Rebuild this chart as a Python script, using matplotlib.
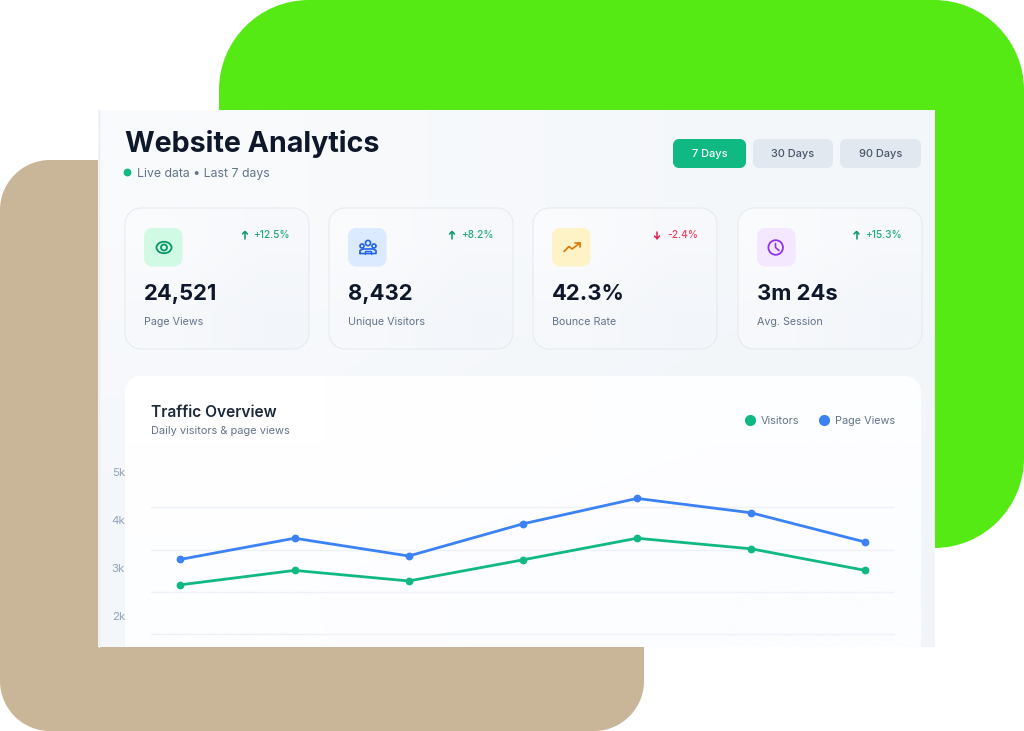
import numpy as np
import matplotlib
matplotlib.use('Agg')
from matplotlib import pyplot as plt
from matplotlib.colors import to_rgb
from matplotlib.lines import Line2D
from matplotlib.patches import Circle, Ellipse, PathPatch
from matplotlib.path import Path

# chart data
days = [0, 1, 2, 3, 4, 5, 6]
visitors = [2650, 2950, 2730, 3170, 3620, 3400, 2950]
page_views = [3180, 3620, 3250, 3920, 4450, 4150, 3540]
y_ticks = [2000, 3000, 4000, 5000]
y_labels = ['2k', '3k', '4k', '5k']
grid_values = [1615, 2500, 3385, 4270]

# header + cards
buttons = ['7 Days', '30 Days', '90 Days']
card_values = ['24,521', '8,432', '42.3%', '3m 24s']
card_labels = ['Page Views', 'Unique Visitors', 'Bounce Rate', 'Avg. Session']
card_deltas = ['+12.5%', '+8.2%', '-2.4%', '+15.3%']

GREEN = '#10B981'
BLUE = '#3B82F6'
DARK = '#1E293B'
GREY = '#64748B'
FONT = 'Inter'

plt.rcParams['font.family'] = [FONT, 'DejaVu Sans']

fig = plt.figure(figsize=(10.24, 7.31), dpi=100, facecolor='white')
bg = fig.add_axes([0, 0, 1, 1])


def round_path(x, y, w, h, r):
    k = 0.5523 * r
    x1, y1 = x + w, y + h
    verts = [(x + r, y), (x1 - r, y), (x1 - r + k, y), (x1, y + r - k), (x1, y + r),
             (x1, y1 - r), (x1, y1 - r + k), (x1 - r + k, y1), (x1 - r, y1),
             (x + r, y1), (x + r - k, y1), (x, y1 - r + k), (x, y1 - r),
             (x, y + r), (x, y + r - k), (x + r - k, y), (x + r, y), (x + r, y)]
    codes = [Path.MOVETO, Path.LINETO] + [Path.CURVE4] * 3 + [Path.LINETO] + [Path.CURVE4] * 3 + \
            [Path.LINETO] + [Path.CURVE4] * 3 + [Path.LINETO] + [Path.CURVE4] * 3 + [Path.CLOSEPOLY]
    return Path(verts, codes)


def box(x, y, w, h, r, color, edge='none', lw=0, z=1):
    p = PathPatch(round_path(x, y, w, h, r), facecolor=color, edgecolor=edge, linewidth=lw, zorder=z)
    bg.add_patch(p)
    return p


def gradient(x, y, w, h, r, c1, c2, z, clip_h=None):
    a, b = np.array(to_rgb(c1)), np.array(to_rgb(c2))
    g = np.array([[a, (a + b) / 2], [(a + b) / 2, b]])
    im = bg.imshow(g, extent=(x, x + w, y + h, y), aspect='auto', interpolation='bilinear', zorder=z)
    if r > 0:
        clip = PathPatch(round_path(x, y, w, clip_h or h, r), transform=bg.transData)
        im.set_clip_path(clip)


def txt(x, y, s, size, color, weight='normal', ha='left'):
    # Inter sits a bit high with va=center
    bg.text(x, y + 1.5, s, fontsize=size * 0.72, color=color, fontweight=weight, ha=ha, va='center', zorder=8)


def stroke(xs, ys, color, lw=1.1):
    bg.plot(xs, ys, color=color, lw=lw, solid_capstyle='round', solid_joinstyle='round', zorder=7)


# background shapes
box(219, 0, 805, 548, 90, '#55EA14', z=1)
box(0, 160, 644, 571, 50, '#C9B598', z=2)

# panel
gradient(98, 110, 837, 537, 0, '#F8FAFC', '#F1F5F9', 3)
bg.plot([98.5, 98.5], [110, 647], color='#E8ECF4', lw=1, zorder=3.5)

txt(125, 142, 'Website Analytics', 28.6, '#0F172A', 'bold')
bg.add_patch(Circle((127.5, 172.5), 3.2, color=GREEN, zorder=7))
txt(137, 172, 'Live data • Last 7 days', 12.3, GREY)

# range buttons
button_x = [673, 753, 840]
button_w = [73, 80, 81]
for i, label in enumerate(buttons):
    active = i == 0
    box(button_x[i], 139, button_w[i], 29, 6, GREEN if active else '#E2E8F0', z=5)
    txt(button_x[i] + button_w[i] / 2, 152.5, label, 11, 'white' if active else '#475569', 'medium', 'center')

# stat cards
card_x = [125, 329, 533, 738]
icon_bg = ['#D1FAE5', '#DBEAFE', '#FEF3C7', '#F3E8FF']
delta_right = [290, 494, 698, 902]
delta_arrow = [245, 452, 657, 856.5]
for i in range(4):
    x = card_x[i]
    gradient(x, 208, 184, 141, 16, '#FAFBFD', '#F3F6FA', 4)
    p = PathPatch(round_path(x, 208, 184, 141, 16), facecolor='none', edgecolor='#E6EBF2', linewidth=0.8, zorder=4.5)
    bg.add_patch(p)
    box(x + 19, 228, 38.5, 38.5, 8, icon_bg[i], z=5)
    down = card_deltas[i].startswith('-')
    col = '#E11D48' if down else '#059669'
    txt(delta_right[i], 234, card_deltas[i], 10.2, '#F43F5E' if down else '#22A97C', 'medium', 'right')
    ax_ = delta_arrow[i]
    tip = 238.5 if down else 231.5
    tail = 232 if down else 238.5
    sign = -1 if down else 1
    stroke([ax_, ax_], [tail, tip], col, 1.1)
    stroke([ax_ - 2.5, ax_, ax_ + 2.5], [tip + 2.5 * sign, tip, tip + 2.5 * sign], col, 1.1)
    txt(x + 19, 292, card_values[i], 22, '#0F172A', 'bold')
    txt(x + 19, 320.5, card_labels[i], 10.7, GREY)

# icon glyphs
c = '#059669'
bg.add_patch(Ellipse((164, 247.5), 15, 11.5, fill=False, edgecolor=c, lw=1.3, zorder=7))
bg.add_patch(Circle((164, 247.5), 3, fill=False, edgecolor=c, lw=1.3, zorder=7))
c = '#2563EB'
for cx, cy, r in [(368, 243, 2.6), (362, 246, 2), (374, 246, 2)]:
    bg.add_patch(Circle((cx, cy), r, fill=False, edgecolor=c, lw=1.2, zorder=7))
stroke([360, 360, 363, 373, 376, 376, 360], [253.5, 250.5, 249, 249, 250.5, 253.5, 253.5], c, 1.2)
stroke([365, 365, 371, 371], [253.5, 250.5, 250.5, 253.5], c, 1.0)
c = '#D97706'
stroke([564, 569, 572, 580], [251.5, 246.5, 249, 243], c, 1.2)
stroke([575, 580, 580], [242.5, 242.5, 247], c, 1.2)
c = '#9333EA'
bg.add_patch(Circle((775.7, 247.5), 7.3, fill=False, edgecolor=c, lw=1.3, zorder=7))
stroke([775.5, 775.5, 779], [243.5, 247.5, 250.5], c, 1.2)

# chart card, cut off by the panel bottom
gradient(125, 376, 796, 271, 16, '#FFFFFF', '#FCFDFF', 4, clip_h=300)
txt(151, 411, 'Traffic Overview', 15.5, DARK, 'semibold')
txt(151, 430, 'Daily visitors & page views', 11, GREY)

bg.set_xlim(0, 1024)
bg.set_ylim(731, 0)
bg.axis('off')

# line chart, pixel box 151..895 x 440..647
ax = fig.add_axes([151 / 1024, 1 - 647 / 731, 744 / 1024, 207 / 731], zorder=5)
ax.patch.set_alpha(0)
for v in grid_values:
    ax.axhline(v, color='#EEF1F7', lw=1, zorder=1)
ax.plot(days, visitors, color=GREEN, lw=2.0, marker='o', ms=4.6, label='Visitors', zorder=3)
ax.plot(days, page_views, color=BLUE, lw=2.0, marker='o', ms=4.6, label='Page Views', zorder=3)
ax.set_xlim(-0.258, 6.26)
ax.set_ylim(1354, 5667)
ax.set_xticks([])
ax.set_yticks(y_ticks)
ax.set_yticklabels(y_labels, fontsize=11.5 * 0.72, color='#94A3B8')
ax.tick_params(axis='y', length=0, pad=18.7)
for s in ax.spines.values():
    s.set_visible(False)

handles = [Line2D([], [], color=GREEN, marker='o', ls='none', ms=7),
           Line2D([], [], color=BLUE, marker='o', ls='none', ms=7)]
leg = ax.legend(handles, ['Visitors', 'Page Views'], ncol=2, frameon=False, loc='center right',
                bbox_to_anchor=(895, 420.5), bbox_transform=bg.transData, borderaxespad=0, borderpad=0,
                handlelength=0.8, handletextpad=0.6, columnspacing=1.9, prop={'size': 10.9 * 0.72})
for t in leg.get_texts():
    t.set_color(GREY)

fig.savefig('out.png', dpi=100)
